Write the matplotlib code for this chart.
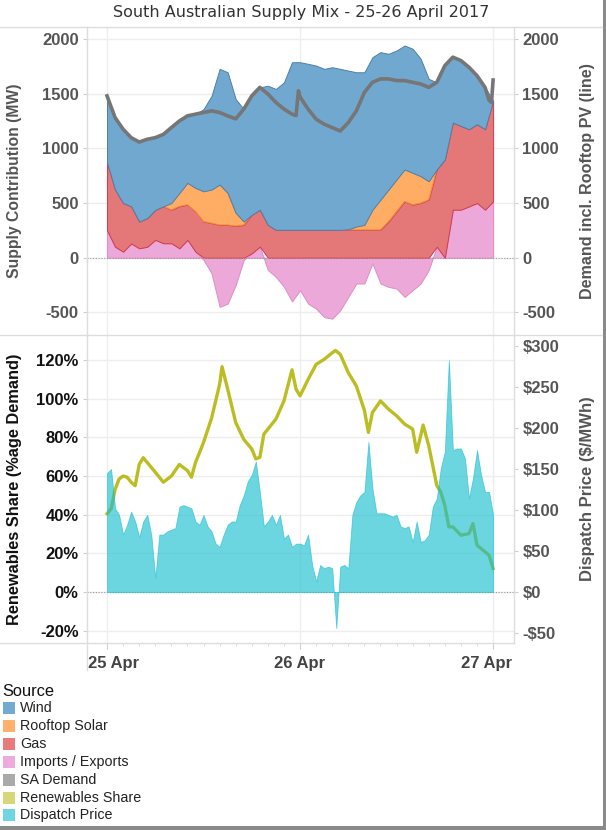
import matplotlib.pyplot as plt
import matplotlib.transforms as mtransforms
import numpy as np
from matplotlib.lines import Line2D
from matplotlib.patches import Rectangle


W, H = 606, 830

TITLE = "South Australian Supply Mix - 25-26 April 2017"

# hours after 25 Apr 00:00, hourly readings of the stacked sources (MW)
HOURS = list(range(49))

IMPORTS = [250, 100, 55, 130, 86, 100, 163, 132, 132, 86,
           163, 55, -20, -144, -450, -420, -250, -20, 40, 101,
           -113, -175, -267, -400, -297, -420, -466, -543, -558, -481,
           -359, -236, -236, -52, -236, -267, -282, -359, -297, -236,
           -113, 100, 0, 439, 439, 469, 500, 439, 515]
GAS = [620, 522, 445, 340, 245, 262, 275, 338, 306, 384,
       322, 368, 331, 316, 300, 300, 290, 300, 353, 337,
       300, 255, 255, 255, 255, 255, 255, 255, 255, 255,
       255, 255, 255, 255, 255, 331, 423, 515, 485, 500,
       531, 707, 899, 797, 766, 706, 721, 736, 920]
SOLAR = [0, 0, 0, 0, 0, 0, 0, 0, 62, 122,
         199, 215, 276, 307, 369, 292, 120, 31, 0, 0,
         0, 0, 0, 0, 0, 0, 0, 0, 0, 0,
         5, 30, 45, 183, 275, 292, 292, 292, 291, 245,
         168, 0, 0, 0, 0, 0, 0, 0, 0]
WIND = [610, 660, 675, 628, 727, 721, 660, 658, 690, 659,
        613, 675, 752, 858, 1058, 1104, 1040, 1028, 1088, 1120,
        1273, 1288, 1349, 1533, 1533, 1518, 1502, 1472, 1487, 1472,
        1451, 1411, 1396, 1396, 1350, 1242, 1180, 1134, 1135, 1074,
        936, 797, 858, 598, 598, 567, 444, 383, 0]

DEMAND_HOURS = list(range(24)) + [23.5, 23.8] + list(range(24, 48)) + [47.5, 47.8, 48]
DEMAND = [1480, 1282, 1175, 1098, 1058, 1083, 1098, 1128, 1190, 1251,
          1297, 1313, 1328, 1343, 1328, 1297, 1270, 1359, 1481, 1558,
          1497, 1420, 1359, 1313, 1300, 1527,
          1470, 1359, 1267, 1221, 1190, 1159, 1236, 1343, 1512, 1604,
          1635, 1635, 1620, 1620, 1604, 1589, 1558, 1604, 1757, 1834,
          1803, 1742, 1665, 1558, 1440, 1420, 1625]

RENEW_HOURS = [0, 0.5, 1, 1.5, 2, 2.5, 3, 3.5, 4, 4.5,
               5, 6, 7, 8, 9, 10, 10.5, 11, 12, 13,
               14, 14.3, 15, 16, 17, 18, 18.5, 19, 19.5, 20,
               21, 22, 23, 23.5, 24, 25, 26, 27, 28, 28.4,
               29, 30, 31, 32, 32.5, 33, 34, 35, 36, 37,
               38, 38.5, 39, 39.3, 40, 40.5, 41, 41.5, 42, 42.5,
               43, 44, 45, 45.5, 46, 47, 47.5, 48]
RENEW_SHARE = [40.5, 43, 53, 58.5, 60, 59.4, 56.8, 55, 66, 69.5,
               67, 62, 56.8, 60, 66, 62.8, 59.4, 67, 77.4, 90,
               107.5, 116.6, 105, 87.7, 79, 74, 68.9, 69.7, 81.7, 84.3,
               89.5, 98.9, 115, 105, 101.5, 110, 117.8, 120.4, 123.8, 125,
               123, 113.5, 106.6, 94, 82.6, 92.9, 98.9, 94.6, 91.2, 86.9,
               84.3, 72.3, 80.9, 86.4, 75.7, 65.4, 55.1, 51.7, 44.8, 33.7,
               33.7, 29.4, 30.2, 35.4, 24.2, 20.8, 19, 12.2]

# half-hourly dispatch price ($/MWh)
PRICE_HOURS = [i * 0.5 for i in range(97)]
PRICE = [145, 150, 102, 94, 70, 82, 98, 86, 67, 86,
         94, 70, 17, 70, 70, 74, 76, 78, 104, 106,
         104, 102, 86, 82, 94, 80, 74, 59, 55, 70,
         82, 86, 86, 106, 118, 135, 143, 159, 122, 80,
         86, 94, 82, 94, 65, 70, 55, 59, 59, 57,
         70, 33, 13, 33, 29, 31, 29, -44, 31, 33,
         29, 94, 110, 118, 122, 183, 126, 96, 96, 96,
         94, 92, 94, 80, 78, 80, 61, 86, 61, 63,
         70, 104, 114, 151, 171, 283, 173, 175, 175, 163,
         114, 139, 173, 143, 122, 122, 94]

DATE_TICKS = [0, 24, 48]
DATE_LABELS = ["25 Apr", "26 Apr", "27 Apr"]

MW_TICKS = [-500, 0, 500, 1000, 1500, 2000]
PCT_TICKS = [-20, 0, 20, 40, 60, 80, 100, 120]
PRICE_TICKS = [-50, 0, 50, 100, 150, 200, 250, 300]

LEGEND_LABELS = ["Wind", "Rooftop Solar", "Gas", "Imports / Exports",
                 "SA Demand", "Renewables Share", "Dispatch Price"]
LEGEND_COLORS = ["#74aad1", "#ffb06b", "#e87b7b", "#eeaadb",
                 "#aaaaaa", "#d6d67a", "#6fd5e0"]

GRID = "#eeeeee"
FRAME = "#dddddd"
GREY_TXT = "#555555"


def fx(x):
    return x / W


def fy(y):
    return 1 - y / H


def estilo_eje(ax, color_labels):
    ax.tick_params(axis="y", direction="out", length=3, color="#cfcfcf",
                   labelsize=12, labelcolor=color_labels, pad=3)
    for lab in ax.get_yticklabels():
        lab.set_fontweight("bold")
    for s in ax.spines.values():
        s.set_visible(False)


plt.rcParams["font.family"] = ["Liberation Sans", "DejaVu Sans"]

fig = plt.figure(figsize=(W / 100, H / 100), dpi=100)
ax1 = fig.add_axes([fx(87), fy(335), fx(427), 308 / H])
ax2 = fig.add_axes([fx(87), fy(643), fx(427), 308 / H])

xlim = (-2.49, 50.6)

# ---- top panel: stacked supply ----
hrs = np.array(HOURS, dtype=float)
imp = np.array(IMPORTS, dtype=float)
gas = np.array(GAS, dtype=float)
sol = np.array(SOLAR, dtype=float)
wnd = np.array(WIND, dtype=float)

base = np.maximum(imp, 0)
gas_top = base + gas
sol_top = gas_top + sol
wind_top = sol_top + wnd

sol_mask = np.convolve(sol > 0, [1, 1, 1], mode="same") > 0

ax1.fill_between(hrs, 0, imp, facecolor="#eca8d8", edgecolor="#e08cc6", lw=0.7, zorder=2)
ax1.fill_between(hrs, base, gas_top, facecolor="#e47777", edgecolor="#d03a4c", lw=0.7, zorder=3)
ax1.fill_between(hrs, gas_top, sol_top, where=sol_mask, facecolor="#ffad65",
                 edgecolor="#f5862a", lw=0.7, zorder=4)
ax1.fill_between(hrs, sol_top, wind_top, facecolor="#71a8cf", edgecolor="#4f7fa6", lw=0.7, zorder=5)

ax1.set_xlim(*xlim)
ax1.set_ylim(-707, 2110)
ax1.set_yticks(MW_TICKS)
ax1.set_yticklabels([str(t) for t in MW_TICKS])
ax1.set_xticks([])
for t in MW_TICKS:
    ax1.axhline(t, color=GRID, lw=1, zorder=0)
for t in DATE_TICKS:
    ax1.axvline(t, color=GRID, lw=1, zorder=0)
ax1.axhline(0, color="#999999", lw=0.8, ls=(0, (1, 1.5)), zorder=6)
estilo_eje(ax1, GREY_TXT)
ax1.set_ylabel("Supply Contribution (MW)", fontsize=11.3, fontweight="bold", color=GREY_TXT)
ax1.yaxis.set_label_coords(-0.153, 0.5)

ax1r = ax1.twinx()
ax1r.plot(DEMAND_HOURS, DEMAND, color="#767676", lw=2.6, solid_joinstyle="round", zorder=7)
ax1r.set_xlim(*xlim)
ax1r.set_ylim(-707, 2110)
ax1r.set_yticks(MW_TICKS)
ax1r.set_yticklabels([str(t) for t in MW_TICKS])
estilo_eje(ax1r, GREY_TXT)
ax1r.set_ylabel("Demand incl. Rooftop PV (line)", fontsize=11.6, fontweight="bold",
                color=GREY_TXT, rotation=90)
ax1r.yaxis.set_label_coords(1.155, 0.5)

# ---- bottom panel: renewables share and price ----
ax2.plot(RENEW_HOURS, RENEW_SHARE, color="#bcbd22", lw=2.4, solid_joinstyle="round", zorder=3)
ax2.set_xlim(*xlim)
ax2.set_ylim(-26.4, 133)
ax2.set_yticks(PCT_TICKS)
ax2.set_yticklabels([f"{t}%" for t in PCT_TICKS])
for t in PCT_TICKS:
    ax2.axhline(t, color=GRID, lw=1, zorder=0)
for t in DATE_TICKS:
    ax2.axvline(t, color=GRID, lw=1, zorder=0)
ax2.axhline(0, color="#999999", lw=0.8, ls=(0, (1, 1.5)), zorder=1)
estilo_eje(ax2, "#111111")
ax2.set_ylabel("Renewables Share (%age Demand)", fontsize=11.8, fontweight="bold", color="#111111")
ax2.yaxis.set_label_coords(-0.153, 0.5)

ax2.set_xticks(DATE_TICKS)
ax2.set_xticklabels(DATE_LABELS)
ax2.set_xticks(np.arange(0, 49, 2), minor=True)
ax2.tick_params(axis="x", which="major", length=4, color="#cfcfcf", labelsize=12,
                labelcolor="#444444", pad=5)
ax2.tick_params(axis="x", which="minor", length=2, color="#d8d8d8")
for lab, dx in zip(ax2.get_xticklabels(), [7, 0, -7]):
    lab.set_fontweight("bold")
    lab.set_transform(lab.get_transform() +
                      mtransforms.ScaledTranslation(dx / 100, 0, fig.dpi_scale_trans))

ax2r = ax2.twinx()
ax2r.fill_between(PRICE_HOURS, 0, PRICE, facecolor="#17becf", edgecolor="#17becf",
                  alpha=0.63, lw=0.6, zorder=4)
ax2r.set_xlim(*xlim)
ax2r.set_ylim(-62.2, 313.4)
ax2r.set_yticks(PRICE_TICKS)
ax2r.set_yticklabels([f"${t}" if t >= 0 else f"-${-t}" for t in PRICE_TICKS])
estilo_eje(ax2r, GREY_TXT)
ax2r.set_ylabel("Dispatch Price ($/MWh)", fontsize=12, fontweight="bold",
                color=GREY_TXT, rotation=90)
ax2r.yaxis.set_label_coords(1.155, 0.5)

# ---- frame lines ----
lines = [
    ((0, 602), (27, 27)),
    ((0, 602), (335, 335)),
    ((0, 514), (643, 643)),
    ((87, 87), (27, 670)),
    ((514, 514), (27, 643)),
]
for xs, ys in lines:
    fig.add_artist(Line2D([fx(xs[0]), fx(xs[1])], [fy(ys[0]), fy(ys[1])],
                          color=FRAME, lw=1, transform=fig.transFigure))

fig.text(fx(301), fy(13), TITLE, ha="center", va="center", fontsize=11.5,
         color="#333333", family="DejaVu Sans")

# ---- legend ----
fig.text(fx(2), fy(691), "Source", ha="left", va="center", fontsize=11.8, color="#111111")
for i, (lab, col) in enumerate(zip(LEGEND_LABELS, LEGEND_COLORS)):
    yc = 708 + i * 17.9
    fig.add_artist(Rectangle((fx(3), fy(yc + 6)), 12 / W, 12 / H, facecolor=col,
                             edgecolor="none", transform=fig.transFigure))
    fig.text(fx(20), fy(yc), lab, ha="left", va="center", fontsize=10.3, color="#222222")

# screenshot shadow
fig.add_artist(Rectangle((fx(603), 0), 3 / W, 1, facecolor="#8a8a8a",
                         edgecolor="none", transform=fig.transFigure))
fig.add_artist(Rectangle((0, 0), 1, 4 / H, facecolor="#8a8a8a",
                         edgecolor="none", transform=fig.transFigure))

fig.savefig("out.png", dpi=100)
